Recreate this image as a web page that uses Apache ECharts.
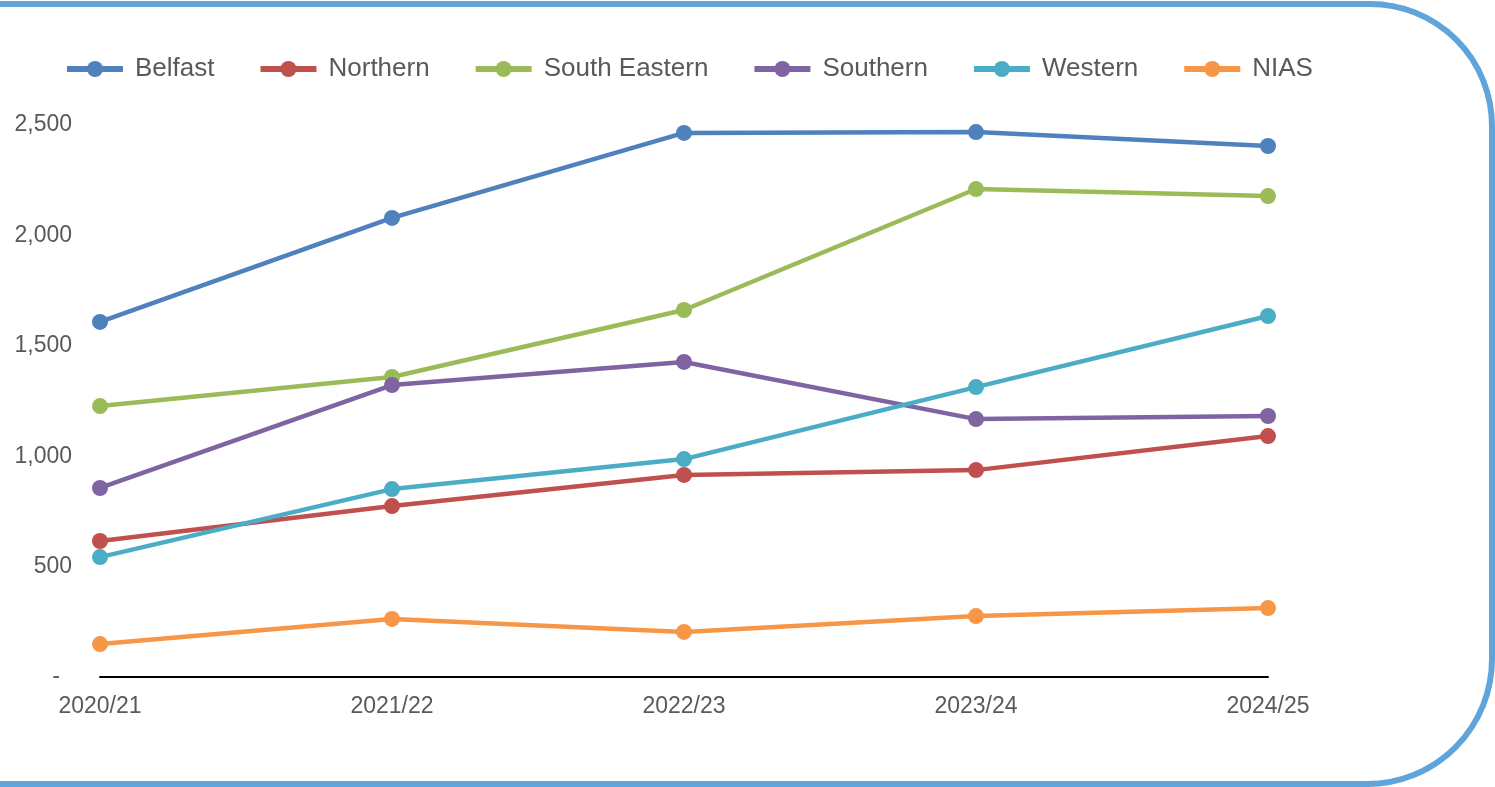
<!DOCTYPE html>
<html>
<head>
<meta charset="utf-8">
<script src="https://cdn.jsdelivr.net/npm/echarts@6/dist/echarts.min.js"></script>
<style>
  html, body { margin: 0; padding: 0; background: #fff; overflow: hidden; }
  #frame {
    position: absolute;
    left: -20px; top: 1px;
    width: 1503px; height: 774px;
    border: 6px solid #5fa5dc;
    border-radius: 0 125px 128px 0;
  }
  #chart { position: absolute; left: 0; top: 0; width: 1495px; height: 787px; }
</style>
</head>
<body>
<div id="frame"></div>
<div id="chart"></div>
<script>
// 年份
const years = ['2020/21', '2021/22', '2022/23', '2023/24', '2024/25'];
// 各区数据
const belfast = [1608, 2079, 2464, 2468, 2405];
const northern = [616, 774, 915, 937, 1091];
const southEastern = [1227, 1359, 1662, 2210, 2178];
const southern = [856, 1322, 1427, 1168, 1182];
const western = [543, 851, 987, 1313, 1635];
const nias = [149, 263, 204, 276, 312];

const seriesDef = [
  { name: 'Belfast', data: belfast, color: '#4f81bd' },
  { name: 'Northern', data: northern, color: '#c0504d' },
  { name: 'South Eastern', data: southEastern, color: '#9bbb59' },
  { name: 'Southern', data: southern, color: '#8064a2' },
  { name: 'Western', data: western, color: '#4bacc6' },
  { name: 'NIAS', data: nias, color: '#f79646' }
];

var chart = echarts.init(document.getElementById('chart'));
var option = {
  animation: false,
  textStyle: { fontFamily: 'Liberation Sans, Arial, sans-serif' },
  legend: {
    left: 59,
    top: 51,
    itemWidth: 56,
    itemHeight: 20,
    itemGap: 43,
    lineStyle: { width: 6 },
    textStyle: { fontSize: 26, color: '#595959', padding: [0, 0, 0, 7] },
    data: seriesDef.map(s => s.name)
  },
  grid: { left: 100, right: 227, top: 125, bottom: 110 },
  xAxis: {
    type: 'category',
    boundaryGap: false,
    data: years,
    axisLine: { lineStyle: { color: '#000', width: 2 } },
    axisTick: { show: false },
    axisLabel: { fontSize: 23, color: '#595959', margin: 18 }
  },
  yAxis: {
    type: 'value',
    min: 0,
    max: 2500,
    interval: 500,
    splitLine: { show: false },
    axisLine: { show: false },
    axisTick: { show: false },
    axisLabel: {
      fontSize: 23,
      color: '#595959',
      margin: 28,
      formatter: function (v) {
        if (v === 0) return '{d|-}';
        return v.toLocaleString('en-US');
      },
      rich: { d: { fontSize: 23, color: '#595959', padding: [0, 12, 0, 0] } }
    }
  },
  series: seriesDef.map(s => ({
    name: s.name,
    type: 'line',
    data: s.data,
    symbol: 'circle',
    symbolSize: 16,
    itemStyle: { color: s.color },
    lineStyle: { color: s.color, width: 4.5 }
  }))
};
chart.setOption(option);
</script>
</body>
</html>
